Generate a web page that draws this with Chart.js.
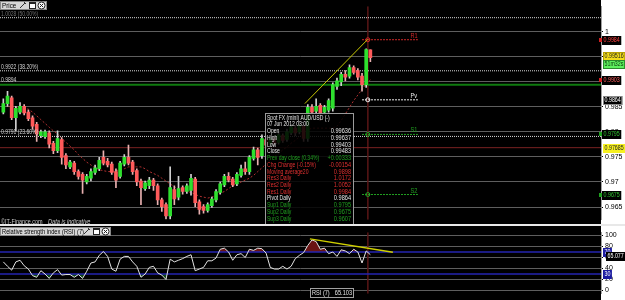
<!DOCTYPE html>
<html><head><meta charset="utf-8">
<script src="https://cdn.jsdelivr.net/npm/chart.js@4.4.1/dist/chart.umd.min.js"></script>
<style>
html,body{margin:0;padding:0;background:#fff;width:625px;height:300px;overflow:hidden}
#p{position:absolute;left:0;top:0;width:625px;height:226px}
#r{position:absolute;left:0;top:226px;width:625px;height:74px}
</style></head><body>
<canvas id="p" width="625" height="226"></canvas>
<canvas id="r" width="625" height="74"></canvas>
<script>
// ---------------- DATA ----------------
const OPEN = [0.98396,0.98566,0.98679,0.98283,0.98396,0.98509,0.98396,0.98283,0.98151,0.97925,
0.97906,0.97981,0.97774,0.97623,0.97849,0.97528,0.97302,0.97377,0.97208,0.97151,
0.97000,0.97075,0.97189,0.97264,0.97491,0.97415,0.97358,0.97208,0.97113,0.97358,
0.97491,0.97396,0.97226,0.97019,0.96868,0.96925,0.97038,0.96925,0.96642,0.96547,
0.96321,0.96849,0.96698,0.96887,0.96811,0.96830,0.97057,0.96604,0.96509,0.96434,
0.96528,0.96642,0.96792,0.96943,0.97113,0.97057,0.96962,0.97132,0.97264,0.97208,
0.97472,0.97642,0.97528,0.97849,0.97755,0.97868,0.97792,0.97925,0.97849,0.97981,
0.98075,0.98000,0.98113,0.97868,0.98491,0.98415,0.98528,0.98396,0.98434,0.98472,
0.98906,0.99000,0.99151,0.99113,0.99283,0.99226,0.99113,0.98943,0.99636];
const HIGH = [0.98660,0.98811,0.98717,0.98509,0.98585,0.98547,0.98434,0.98321,0.98189,0.98038,
0.98038,0.98019,0.97811,0.98019,0.97887,0.97566,0.97434,0.97415,0.97245,0.97189,
0.97151,0.97264,0.97340,0.97491,0.97623,0.97472,0.97396,0.97264,0.97415,0.97547,
0.97736,0.97434,0.97264,0.97057,0.97019,0.97094,0.97075,0.96962,0.96679,0.96585,
0.97302,0.96925,0.97113,0.96925,0.96962,0.97151,0.97094,0.96642,0.96547,0.96585,
0.96698,0.96849,0.97000,0.97151,0.97189,0.97094,0.97189,0.97340,0.97396,0.97528,
0.97698,0.97679,0.97943,0.97906,0.97925,0.97906,0.98000,0.97962,0.98057,0.98151,
0.98132,0.98189,0.98151,0.98547,0.98547,0.98660,0.98566,0.98528,0.98660,0.98981,
0.99075,0.99189,0.99226,0.99340,0.99321,0.99264,0.99170,0.99660,0.99637];
const LOW = [0.98358,0.98509,0.98245,0.98019,0.98358,0.98340,0.98226,0.98057,0.97811,0.97887,
0.97868,0.97679,0.97566,0.97585,0.97358,0.97264,0.97264,0.97151,0.97057,0.96774,
0.96962,0.97019,0.97151,0.97226,0.97340,0.97302,0.97151,0.96887,0.97075,0.97321,
0.97340,0.97151,0.96925,0.96547,0.96830,0.96868,0.96830,0.96547,0.96415,0.96264,
0.96264,0.96547,0.96642,0.96755,0.96774,0.96736,0.96509,0.96358,0.96377,0.96396,
0.96491,0.96604,0.96755,0.96906,0.97000,0.96906,0.96925,0.97094,0.97151,0.97151,
0.97434,0.97340,0.97472,0.97679,0.97717,0.97736,0.97755,0.97792,0.97811,0.97943,
0.97925,0.97962,0.97811,0.97811,0.98358,0.98377,0.98226,0.98358,0.98396,0.98415,
0.98849,0.98925,0.99019,0.99075,0.99151,0.99038,0.98811,0.98887,0.99403];
const CLOSE = [0.98566,0.98717,0.98283,0.98472,0.98509,0.98377,0.98264,0.98113,0.97962,0.98000,
0.98000,0.97755,0.97623,0.97868,0.97491,0.97340,0.97396,0.97208,0.97113,0.97038,
0.97113,0.97208,0.97283,0.97434,0.97377,0.97340,0.97189,0.97038,0.97377,0.97491,
0.97377,0.97208,0.97000,0.96887,0.96981,0.97038,0.96925,0.96642,0.96509,0.96321,
0.96887,0.96660,0.96868,0.96811,0.96925,0.97075,0.96585,0.96453,0.96434,0.96547,
0.96660,0.96811,0.96962,0.97113,0.97038,0.96943,0.97151,0.97264,0.97208,0.97491,
0.97642,0.97491,0.97868,0.97736,0.97868,0.97774,0.97943,0.97830,0.98000,0.98094,
0.97981,0.98132,0.97868,0.98491,0.98396,0.98509,0.98377,0.98491,0.98623,0.98943,
0.99019,0.99151,0.99094,0.99283,0.99189,0.99094,0.98943,0.99642,0.99483];
const MA20 = [null,0.98509,0.98509,0.98491,0.98491,0.98472,0.98453,0.98396,0.98321,0.98245,
0.98170,0.98094,0.98019,0.97962,0.97868,0.97792,0.97717,0.97642,0.97547,0.97472,
0.97396,0.97340,0.97283,0.97245,0.97226,0.97208,0.97208,0.97226,0.97245,0.97264,
0.97302,0.97302,0.97302,0.97302,0.97264,0.97208,0.97170,0.97132,0.97075,0.97019,
0.96962,0.96906,0.96849,0.96830,0.96811,0.96792,0.96755,0.96717,0.96698,0.96679,
0.96698,0.96736,0.96774,0.96811,0.96868,0.96925,0.96962,0.97000,0.97038,0.97075,
0.97132,0.97208,0.97283,0.97358,0.97434,0.97509,0.97566,0.97642,0.97698,0.97774,
0.97830,0.97906,0.97981,0.98038,0.98075,0.98075,0.98075,0.98075,0.98075,0.98075,
0.98113,0.98226,0.98358,0.98491,0.98623,0.98736,0.98849,0.98962,0.99038];
const RSI = [52,44,37,52,55,45,39,27,24,36,
30,22,32,38,28,29,29,24,29,22,
35,50,52,64,71,62,39,35,57,62,
62,52,44,24,30,42,44,32,28,20,
57,52,55,58,62,65,36,39,42,54,
54,59,75,77,70,55,65,67,60,75,
73,77,76,68,42,39,39,44,39,44,
58,64,69,82,92,89,75,77,67,70,
62,74,72,67,75,70,50,72,65.1];

const PRICE_TICKS = [1, 0.995, 0.99, 0.985, 0.98, 0.975, 0.97, 0.965];
const RSI_TICKS = [0, 20, 40, 60, 80, 100];
const RSI_LEVELS = [70, 30];

const FIB_VALUES = [1.0028, 0.9922, 0.9791];
const FIB_LABELS = ['1.0028 (50.00%)', '0.9922 (38.20%)', '0.9791 (23.60%)'];
const FIB_LABEL_COLORS = ['#6a6a6a', '#d0d0d0', '#d0d0d0'];
const GREEN_LEVEL = 0.9894;
const RED_LEVEL = 0.97685;

const PIVOT_NAMES = ['R1', 'Pv', 'S1', 'S2'];
const PIVOT_VALUES = [0.9984, 0.9864, 0.9795, 0.9675];
const PIVOT_COLORS = ['#d02828', '#f0f0f0', '#22a022', '#22a022'];

const TREND_PRICE_X = [72.3, 87.4];
const TREND_PRICE_Y = [0.98566, 0.99849];
const TREND_RSI_X = [73.5, 93.4];
const TREND_RSI_Y = [93.9, 69.7];

const CURSOR_INDEX = 87.4;
const LAST_PRICE = 0.99516;
const COUNTDOWN = '51m32s';
const MA_LAST = 0.9903;
const RSI_AXIS_VALUE = '65.077';
const RSI_LAST = '65.103';

const TIP_LABELS = ['Spot FX (mini) AUD/USD (-)','07 Jun 2012 03:00','Open','High','Low','Close',
 'Prev day close (0.34%)','Chg Change (-0.15%)','Moving average20','Res3 Daily','Res2 Daily','Res1 Daily',
 'Pivot Daily','Sup1 Daily','Sup2 Daily','Sup3 Daily'];
const TIP_VALUES = ['','','0.99636','0.99637','0.99403','0.99483','+0.00333','-0.00154','0.9898',
 '1.0172','1.0052','0.9984','0.9864','0.9795','0.9675','0.9607'];
const TIP_COLORS = ['w','w','w','w','w','w','g','r','r','r','r','r','w','g','g','g'];

// ---------------- SETUP ----------------
const FONT = '"Liberation Sans", Arial, sans-serif';
Chart.defaults.font.family = FONT;
Chart.defaults.font.size = 7;
const X_MIN = -0.8, X_MAX = 143.3;
const P_MIN = 0.962453, P_MAX = 1.005094;
const R_MIN = -6.06, R_MAX = 106.06;

const IDX = CLOSE.map((_, i) => i);
const isUp = i => CLOSE[i] >= OPEN[i];

function hline(v, color, dash, width, order) {
  return {type:'line', data:[{x:X_MIN,y:v},{x:X_MAX,y:v}], borderColor:color, borderDash:dash,
    borderWidth:width, pointRadius:0, fill:false, order};
}
function vline(x, lo, hi, color, width, order) {
  return {type:'line', data:[{x:x,y:lo},{x:x,y:hi}], borderColor:color, borderWidth:width,
    pointRadius:0, fill:false, order};
}
// horizontally condensed text (the original uses a narrow bitmap font)
function ctext(ctx, s, x, y, align, sx) {
  ctx.save(); ctx.translate(x, y); ctx.scale(sx, 1); ctx.textAlign = align || 'left';
  ctx.fillText(s, 0, 0); ctx.restore();
}

const bgPlugin = {
  id:'bg',
  beforeDraw(chart){
    const {ctx, chartArea:a, width, height} = chart;
    ctx.save();
    ctx.fillStyle = '#ffffff'; ctx.fillRect(0,0,width,height);
    ctx.fillStyle = '#000000'; ctx.fillRect(0,0,a.right,height);
    ctx.restore();
  }
};

const SX = 0.76;
function axisBox(ctx, yc, text, bg, fg, x, border) {
  ctx.font = '7px ' + FONT;
  const tw = ctx.measureText(text).width * SX;
  const x0 = x || 602;
  const y0 = Math.round(yc) - 4;
  ctx.fillStyle = bg; ctx.fillRect(x0, y0, tw + 3, 9);
  if (border) { ctx.strokeStyle = border; ctx.lineWidth = 1; ctx.strokeRect(x0 + 0.5, y0 + 0.5, tw + 2, 8); }
  ctx.fillStyle = fg; ctx.textBaseline = 'middle';
  ctext(ctx, text, x0 + 1.5, Math.round(yc) + 0.5, 'left', SX);
}
function marker(ctx, yc, color) {
  ctx.fillStyle = color;
  ctx.fillRect(599, Math.round(yc) - 2, 3, 4);
}
function headerIcons(ctx, x, y) {
  ctx.strokeStyle = '#333'; ctx.lineWidth = 1;
  ctx.beginPath(); ctx.moveTo(x, y+7); ctx.lineTo(x+5, y+2); ctx.stroke();
  ctx.beginPath(); ctx.moveTo(x+4, y+1); ctx.lineTo(x+6, y+3); ctx.stroke();
  ctx.fillStyle = '#fff'; ctx.fillRect(x+9, y+1, 7, 7);
  ctx.strokeStyle = '#222'; ctx.strokeRect(x+9.5, y+1.5, 6, 6);
  ctx.fillStyle = '#222'; ctx.fillRect(x+9, y+1, 7, 2);
  ctx.beginPath(); ctx.arc(x+21.5, y+4.5, 3.5, 0, Math.PI*2); ctx.fillStyle='#fff'; ctx.fill(); ctx.stroke();
  ctx.beginPath(); ctx.moveTo(x+20, y+3); ctx.lineTo(x+23, y+6); ctx.moveTo(x+23, y+3); ctx.lineTo(x+20, y+6); ctx.stroke();
}

const priceOverlay = {
  id:'priceOverlay',
  afterDatasetsDraw(chart){
    const {ctx} = chart; const ys = chart.scales.y; const xs = chart.scales.x;
    ctx.save();
    ctx.font = '7px ' + FONT; ctx.textBaseline = 'alphabetic';
    FIB_VALUES.forEach((v, k) => { ctx.fillStyle = FIB_LABEL_COLORS[k]; ctext(ctx, FIB_LABELS[k], 1, ys.getPixelForValue(v) - 2, 'left', 0.72); });
    ctx.fillStyle = '#d0d0d0'; ctext(ctx, String(GREEN_LEVEL), 1, ys.getPixelForValue(GREEN_LEVEL) - 3, 'left', 0.72);
    PIVOT_VALUES.forEach((v, k) => {
      ctx.fillStyle = PIVOT_COLORS[k];
      ctext(ctx, PIVOT_NAMES[k], xs.getPixelForValue(97.6), ys.getPixelForValue(v) - 2, 'left', 0.8);
    });
    ctx.fillStyle = '#c8c8c8'; ctext(ctx, '\u00A9IT-Finance.com', 1, 224, 'left', 0.78);
    ctx.font = 'italic 7px ' + FONT; ctext(ctx, 'Data is indicative', 48, 224, 'left', 0.8);
    // tooltip box
    ctx.fillStyle = 'rgba(0,0,0,0.86)'; ctx.fillRect(265, 113, 89, 112);
    ctx.strokeStyle = '#9a9a9a'; ctx.lineWidth = 1; ctx.strokeRect(265.5, 113.5, 88, 111);
    ctx.font = '7px ' + FONT; ctx.textBaseline = 'middle';
    const col = {w:'#e6e6e6', g:'#20a020', r:'#e03030'};
    TIP_LABELS.forEach((t, k) => {
      const y = 117.8 + k * 6.73;
      ctx.fillStyle = col[TIP_COLORS[k]];
      ctext(ctx, t, 267, y, 'left', 0.72);
      if (TIP_VALUES[k]) ctext(ctx, TIP_VALUES[k], 351, y, 'right', 0.8);
    });
    ctx.restore();
  },
  afterDraw(chart){
    const {ctx} = chart; const ys = chart.scales.y;
    ctx.save();
    ctx.fillStyle = '#d6d6d6'; ctx.fillRect(0, 1, 47, 9);
    ctx.strokeStyle = '#888'; ctx.lineWidth = 1; ctx.strokeRect(0.5, 1.5, 46, 8);
    ctx.fillStyle = '#000'; ctx.font = '7px ' + FONT; ctx.textBaseline = 'middle';
    ctext(ctx, 'Price', 2, 5.8, 'left', 0.9);
    headerIcons(ctx, 20, 1);
    marker(ctx, ys.getPixelForValue(PIVOT_VALUES[0]), '#d02020');
    axisBox(ctx, ys.getPixelForValue(PIVOT_VALUES[0]), PIVOT_VALUES[0].toFixed(4), '#000', '#ff4040');
    axisBox(ctx, ys.getPixelForValue(LAST_PRICE), LAST_PRICE.toFixed(5), '#f2dc1a', '#222', 603, '#b8a000');
    axisBox(ctx, ys.getPixelForValue(LAST_PRICE) + 8, COUNTDOWN, '#5ef05e', '#0a3a0a', 603, '#2a8a2a');
    marker(ctx, ys.getPixelForValue(MA_LAST), '#d02020');
    axisBox(ctx, ys.getPixelForValue(MA_LAST), MA_LAST.toFixed(4), '#000', '#ff6060');
    axisBox(ctx, ys.getPixelForValue(PIVOT_VALUES[1]), PIVOT_VALUES[1].toFixed(4), '#000', '#ffffff', 603, '#888');
    marker(ctx, ys.getPixelForValue(PIVOT_VALUES[2]), '#20a020');
    axisBox(ctx, ys.getPixelForValue(PIVOT_VALUES[2]), PIVOT_VALUES[2].toFixed(4), '#000', '#30c030');
    axisBox(ctx, ys.getPixelForValue(RED_LEVEL), RED_LEVEL.toFixed(5), '#f6f020', '#222', 603);
    marker(ctx, ys.getPixelForValue(PIVOT_VALUES[3]), '#20a020');
    axisBox(ctx, ys.getPixelForValue(PIVOT_VALUES[3]), PIVOT_VALUES[3].toFixed(4), '#000', '#30c030');
    ctx.fillStyle = '#e8e8e8'; ctx.fillRect(0, 224, 625, 2);
    ctx.restore();
  }
};

const priceChart = new Chart(document.getElementById('p'), {
  type:'bar',
  data:{ datasets:[
    vline(CURSOR_INDEX, P_MIN, P_MAX, '#5a1616', 1.5, 12),
    ...FIB_VALUES.map(v => hline(v, '#d8d8d8', [1,1], 1, 11)),
    hline(GREEN_LEVEL, '#0e7a0e', [], 2, 11),
    hline(RED_LEVEL, '#7a2222', [], 1, 11),
    {type:'line', data: IDX.map(i => ({x:i, y:MA20[i]})), borderColor:'#b03030', borderDash:[2,2],
      borderWidth:1, pointRadius:0, fill:false, spanGaps:false, order:5},
    {type:'bar', data: IDX.map(i => ({x:i, y:[LOW[i], HIGH[i]]})), grouped:false, barThickness:1,
      backgroundColor: IDX.map(i => isUp(i) ? '#d0d0d0' : '#e8b0b0'), borderWidth:0, order:4},
    {type:'bar', data: IDX.map(i => ({x:i, y:[OPEN[i], CLOSE[i]]})), grouped:false, barThickness:3,
      backgroundColor: IDX.map(i => isUp(i) ? '#2ee02e' : '#ff5a5a'), borderWidth:0, order:3},
    ...PIVOT_VALUES.map((v, k) => ({type:'line',
      data:[{x:86.0,y:v},{x:CURSOR_INDEX,y:v},{x:99.4,y:v}], borderColor:PIVOT_COLORS[k], borderDash:[2,1],
      borderWidth:1, pointRadius:[0,2,0], pointBackgroundColor:'rgba(0,0,0,0)', pointBorderColor:PIVOT_COLORS[k],
      pointBorderWidth:1, fill:false, order:2})),
    {type:'line', data: TREND_PRICE_X.map((x, k) => ({x, y:TREND_PRICE_Y[k]})), borderColor:'#c8c800',
      borderWidth:1, pointRadius:0, fill:false, order:1}
  ]},
  options:{
    responsive:false, animation:false, events:[],
    layout:{padding:0},
    plugins:{legend:{display:false}, tooltip:{enabled:false}},
    scales:{
      x:{type:'linear', min:X_MIN, max:X_MAX, display:false, offset:false},
      y:{position:'right', min:P_MIN, max:P_MAX,
        afterBuildTicks: s => { s.ticks = PRICE_TICKS.map(v => ({value:v})); },
        afterFit: s => { s.width = 24; },
        ticks:{color:'#000', font:{size:7, family:FONT}, padding:2, autoSkip:false, callback: v => String(v)},
        grid:{color:'#5e5e5e', lineWidth:1, tickLength:2, tickColor:'#000'},
        border:{display:true, color:'#a0a0a0'}
      }
    }
  },
  plugins:[bgPlugin, priceOverlay]
});

const rsiOverlay = {
  id:'rsiOverlay',
  afterDraw(chart){
    const {ctx} = chart; const ys = chart.scales.y;
    ctx.save();
    ctx.fillStyle = '#d6d6d6'; ctx.fillRect(0, 1, 111, 9);
    ctx.strokeStyle = '#888'; ctx.lineWidth = 1; ctx.strokeRect(0.5, 1.5, 110, 8);
    ctx.fillStyle = '#000'; ctx.font = '7px ' + FONT; ctx.textBaseline = 'middle';
    ctext(ctx, 'Relative strength index (RSI) (7)', 2, 5.8, 'left', 0.82);
    headerIcons(ctx, 84, 1);
    ctx.fillStyle = '#000'; ctx.fillRect(310, 62, 44, 10);
    ctx.strokeStyle = '#a0a0a0'; ctx.strokeRect(310.5, 62.5, 43, 9);
    ctx.fillStyle = '#e6e6e6'; ctext(ctx, 'RSI (7)', 312, 67.5, 'left', 0.8);
    ctext(ctx, RSI_LAST, 352, 67.5, 'right', 0.8);
    axisBox(ctx, ys.getPixelForValue(RSI_LEVELS[0]), String(RSI_LEVELS[0]), '#1c1ca0', '#ffffff', 603);
    axisBox(ctx, ys.getPixelForValue(RSI[RSI.length-1]) + 1, RSI_AXIS_VALUE, '#000', '#ffffff', 606);
    axisBox(ctx, ys.getPixelForValue(RSI_LEVELS[1]), String(RSI_LEVELS[1]), '#1c1ca0', '#ffffff', 603);
    ctx.restore();
  }
};

const rsiPts = IDX.map(i => ({x:i, y:RSI[i]}));
const rsiChart = new Chart(document.getElementById('r'), {
  type:'line',
  data:{ datasets:[
    vline(CURSOR_INDEX, R_MIN, R_MAX, '#5a1616', 1.5, 12),
    {data:rsiPts, borderWidth:0, borderColor:'rgba(0,0,0,0)', pointRadius:0,
      fill:{target:{value:RSI_LEVELS[0]}, above:'#6a1414', below:'rgba(0,0,0,0)'}, order:9},
    {data:rsiPts, borderWidth:0, borderColor:'rgba(0,0,0,0)', pointRadius:0,
      fill:{target:{value:RSI_LEVELS[1]}, above:'rgba(0,0,0,0)', below:'#0e4416'}, order:9},
    ...RSI_LEVELS.map(v => hline(v, '#2424b0', [], 1.5, 8)),
    {data:rsiPts, borderColor:'#e4e4e4', borderWidth:1, pointRadius:0, fill:false, order:2},
    {data: TREND_RSI_X.map((x, k) => ({x, y:TREND_RSI_Y[k]})), borderColor:'#d0d000', borderWidth:1.5,
      pointRadius:0, fill:false, order:1}
  ]},
  options:{
    responsive:false, animation:false, events:[],
    layout:{padding:0},
    plugins:{legend:{display:false}, tooltip:{enabled:false}},
    scales:{
      x:{type:'linear', min:X_MIN, max:X_MAX, display:false, offset:false},
      y:{position:'right', min:R_MIN, max:R_MAX,
        afterBuildTicks: s => { s.ticks = RSI_TICKS.map(v => ({value:v})); },
        afterFit: s => { s.width = 24; },
        ticks:{color:'#000', font:{size:7, family:FONT}, padding:2, autoSkip:false, callback: v => String(v)},
        grid:{color:'#5e5e5e', lineWidth:1, tickLength:2, tickColor:'#000'},
        border:{display:true, color:'#a0a0a0'}
      }
    }
  },
  plugins:[bgPlugin, rsiOverlay]
});
</script></body></html>
